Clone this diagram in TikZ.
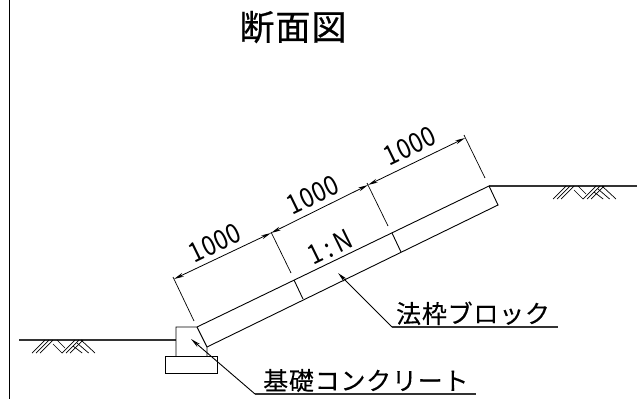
\documentclass[tikz,border=0pt]{standalone}
\usepackage{fontspec}
\newfontfamily\jpfont{Noto Sans CJK JP}
\newfontfamily\dimfont[FakeStretch=0.88,LetterSpace=2]{Noto Sans CJK JP}
\newfontfamily\titlefont[FakeBold=0.6,LetterSpace=3]{Noto Sans CJK JP}
\usetikzlibrary{arrows.meta}

\newcommand{\groundmark}[2]{%
	\foreach \i in {0,4,8} {
		\draw[thin line] (#1+\i,#2+13) -- (#1+13+\i,#2);
		\draw[thin line] (#1+30+\i,#2+13) -- (#1+43+\i,#2);
		\draw[thin line] (#1+49-\i,#2+\i*0.75) -- (#1+63-\i*1.6,#2+13);
	}
	\draw[thin line] (#1+25,#2) -- (#1+33,#2+8);
	\draw[thin line] (#1+21,#2+4) -- (#1+30,#2+13);
}

\begin{document}
\begin{tikzpicture}[>={Stealth[length=10pt,width=4pt]},x=1pt,y=-1pt,font=\jpfont]
	\tikzset{thin line/.style = {line width=0.7pt,black}}
	\tikzset{part/.style = {line width=0.9pt,black}}
	\tikzset{ground/.style = {line width=1.2pt,black!80}}
	\tikzset{dim/.style = {line width=0.8pt,black,<->}}
	\tikzset{leader/.style = {line width=0.9pt,black,<-}}
	\tikzset{dimtext/.style = {font=\dimfont\fontsize{27}{27}\selectfont,rotate=26,inner sep=0pt}}
	\tikzset{tag/.style = {font=\jpfont\fontsize{25}{25}\selectfont\addfontfeature{LetterSpace=3,FakeBold=0.2},inner sep=0pt,anchor=base west}}
	\useasboundingbox (0,0) rectangle (637,399);

	% points
	\coordinate (frametop) at (9,0);
	\coordinate (framebot) at (9,399);
	\coordinate (gl) at (19,340);
	\coordinate (gm) at (176,340);
	\coordinate (gr) at (637,186);
	\coordinate (ftop) at (176,327);
	\coordinate (fbot) at (176,356);
	\coordinate (a) at (197,327);
	\coordinate (b) at (207,347);
	\coordinate (bb) at (207,356);
	\coordinate (c) at (489,186);
	\coordinate (d) at (498,205);
	\coordinate (s1a) at (294,280);
	\coordinate (s1b) at (303,299);
	\coordinate (s2a) at (392,233);
	\coordinate (s2b) at (401,252);
	\coordinate (base1) at (165,356);
	\coordinate (base2) at (217,373);
	% dimension points
	\coordinate (p0) at (174,279);
	\coordinate (p1) at (271,233);
	\coordinate (p2) at (368,185);
	\coordinate (p3) at (465,138);
	\coordinate (e0a) at (173,277);
	\coordinate (e0b) at (194,321);
	\coordinate (e1a) at (271,232);
	\coordinate (e1b) at (291,273);
	\coordinate (e2a) at (367,183);
	\coordinate (e2b) at (388,226);
	\coordinate (e3a) at (464,135);
	\coordinate (e3b) at (485,178);
	% leader points
	\coordinate (tip1) at (338,273);
	\coordinate (knee1) at (392,327);
	\coordinate (end1) at (558,327);
	\coordinate (tip2) at (191,339);
	\coordinate (knee2) at (255,394);
	\coordinate (end2) at (476,394);

	% texts
	\node[font=\titlefont\fontsize{35}{35}\selectfont,inner sep=0pt] (title) at (293,27) {断面図};
	\node[dimtext] (len1) at (215,243) {1000};
	\node[dimtext] (len2) at (313,195) {1000};
	\node[dimtext] (len3) at (410,146) {1000};
	\node[dimtext] (ratio) at (330,247) {1\,:\,N};
	\node[tag] (block) at (396,323) {法枠ブロック};
	\node[tag] (footing) at (263,390) {基礎コンクリート};

	% outline
	\draw[part] (frametop) -- (framebot);
	\draw[ground] (gl) -- (gm);
	\draw[ground] (c) -- (gr);
	\draw[part] (fbot) -- (ftop) -- (a) -- (b) -- (bb);
	\draw[part] (base1) rectangle (base2);
	\draw[part] (a) -- (c) -- (d) -- (b);
	\draw[part] (s1a) -- (s1b);
	\draw[part] (s2a) -- (s2b);

	% dimensions
	\draw[thin line] (e0a) -- (e0b);
	\draw[thin line] (e1a) -- (e1b);
	\draw[thin line] (e2a) -- (e2b);
	\draw[thin line] (e3a) -- (e3b);
	\draw[dim] (p0) -- (p1);
	\draw[dim] (p1) -- (p2);
	\draw[dim] (p2) -- (p3);

	% leaders
	\draw[leader] (tip1) -- (knee1);
	\draw[ground] (knee1) -- (end1);
	\draw[leader] (tip2) -- (knee2);
	\draw[ground] (knee2) -- (end2);

	\groundmark{32}{340}
	\groundmark{553}{186}
\end{tikzpicture}
\end{document}
